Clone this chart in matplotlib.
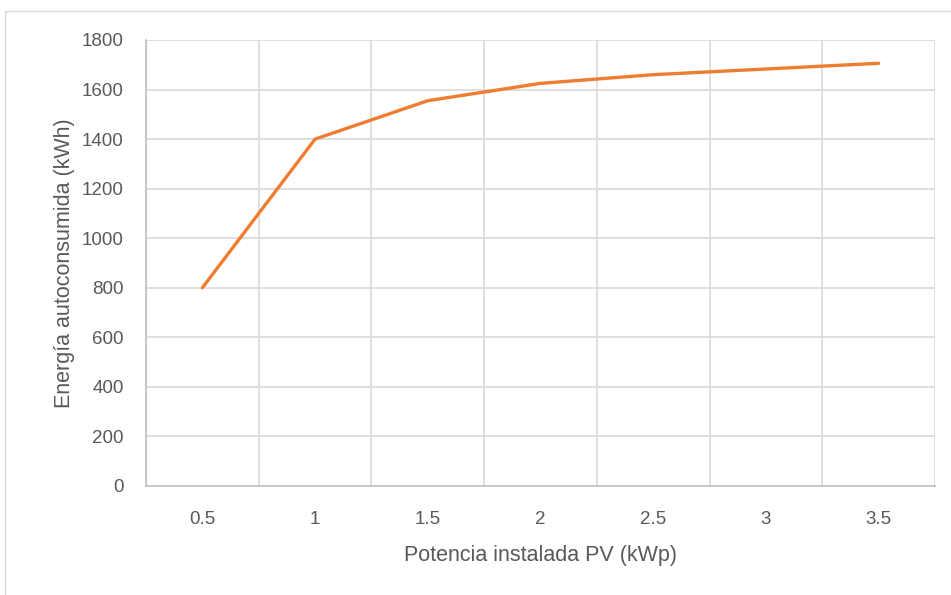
import matplotlib
matplotlib.use("Agg")
import matplotlib.pyplot as plt
from matplotlib.patches import Rectangle
import numpy as np

# installed PV power (kWp) and self-consumed energy (kWh)
potencia = ["0.5", "1", "1.5", "2", "2.5", "3", "3.5"]
energia = [800, 1400, 1555, 1625, 1660, 1683, 1706]
y_ticks = [0, 200, 400, 600, 800, 1000, 1200, 1400, 1600, 1800]

plt.rcParams["font.family"] = ["Liberation Sans Narrow", "Liberation Sans", "DejaVu Sans"]

TEXT = "#595959"
GRID = "#D9D9D9"
ORANGE = "#ED7D31"

W, H = 951, 595
fig = plt.figure(figsize=(W / 100, H / 100), dpi=100)
fig.patches.append(Rectangle((5 / W, -0.1), 1.2, 1 - 11 / H + 0.1,
                             transform=fig.transFigure, fill=False,
                             edgecolor="#D9D9D9", linewidth=1.0))

ax = fig.add_axes([146 / W, 1 - 486 / H, (935 - 146) / W, (486 - 40) / H])
x = np.arange(len(potencia))
ax.plot(x, energia, color=ORANGE, linewidth=2.4, solid_capstyle="round",
        solid_joinstyle="round", zorder=3)

ax.set_xlim(-0.5, len(potencia) - 0.5)
ax.set_ylim(0, 1800)
ax.set_xticks(x)
ax.set_xticklabels(potencia)
ax.set_xticks(np.arange(-0.5, len(potencia)), minor=True)
ax.set_yticks(y_ticks)

ax.grid(True, which="major", axis="y", color=GRID, linewidth=1.2)
ax.grid(True, which="minor", axis="x", color=GRID, linewidth=1.2)
ax.set_axisbelow(True)
ax.tick_params(which="both", length=0, labelsize=13.5, colors=TEXT)
ax.tick_params(axis="x", pad=18)
ax.tick_params(axis="y", pad=16)

for side in ("top", "right"):
    ax.spines[side].set_visible(False)
for side in ("left", "bottom"):
    ax.spines[side].set_color("#BFBFBF")
    ax.spines[side].set_linewidth(1.2)

ax.set_xlabel("Potencia instalada PV (kWp)", fontsize=15.5, color=TEXT, labelpad=12)
ax.set_ylabel("Energía autoconsumida (kWh)", fontsize=15.5, color=TEXT, labelpad=5)

fig.savefig("out.png", dpi=100)
